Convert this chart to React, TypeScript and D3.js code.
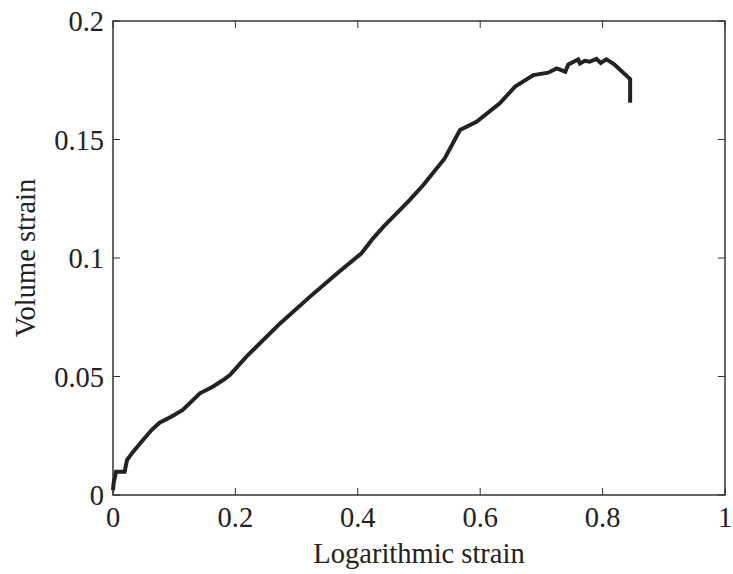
import React from "react";
import * as d3 from "d3";

const logStrain = [0, 0.001, 0.005, 0.019, 0.023, 0.033, 0.049, 0.063, 0.076, 0.095, 0.114, 0.142, 0.163, 0.18, 0.191, 0.218, 0.273, 0.322, 0.366, 0.406, 0.425, 0.442, 0.469, 0.485, 0.507, 0.542, 0.567, 0.594, 0.632, 0.657, 0.687, 0.711, 0.725, 0.739, 0.744, 0.76, 0.763, 0.771, 0.779, 0.79, 0.797, 0.806, 0.818, 0.845, 0.845];
const volStrain = [0.002, 0.005, 0.0098, 0.0098, 0.0148, 0.0183, 0.0232, 0.0274, 0.0305, 0.033, 0.0359, 0.0429, 0.0457, 0.0485, 0.0506, 0.0584, 0.0724, 0.0837, 0.0935, 0.102, 0.1083, 0.1132, 0.1203, 0.1245, 0.1308, 0.142, 0.154, 0.1575, 0.1653, 0.1723, 0.1772, 0.1782, 0.18, 0.1786, 0.1817, 0.1838, 0.1821, 0.1832, 0.1828, 0.184, 0.1823, 0.1838, 0.1819, 0.1755, 0.1655];
const xTicks = [0, 0.2, 0.4, 0.6, 0.8, 1];
const yTicks = [0, 0.05, 0.1, 0.15, 0.2];
const xTickLabels = ["0", "0.2", "0.4", "0.6", "0.8", "1"];
const yTickLabels = ["0", "0.05", "0.1", "0.15", "0.2"];

export default function App() {
  const W = 733, H = 574;
  const L = 113, R = 725, T = 21, B = 495;
  const x = d3.scaleLinear().domain([0, 1]).range([L, R]);
  const y = d3.scaleLinear().domain([0, 0.2]).range([B, T]);
  const pts = logStrain.map((v, i) => [v, volStrain[i]] as [number, number]);
  const line = d3.line<[number, number]>().x(d => x(d[0])).y(d => y(d[1]));
  const font = "'Liberation Serif', 'Times New Roman', serif";
  const fs = 28.5;
  const tl = 7;
  return (
    <svg width={W} height={H} style={{ position: "absolute", left: 0, top: 0, background: "#fff" }}>
      <rect x={0} y={0} width={W} height={H} fill="#fff" />
      <rect x={L} y={T} width={R - L} height={B - T} fill="none" stroke="#333" strokeWidth={1.5} />
      {xTicks.map((t, i) => (
        <g key={"x" + i}>
          <line x1={x(t)} x2={x(t)} y1={B} y2={B - tl} stroke="#333" strokeWidth={1} />
          <line x1={x(t)} x2={x(t)} y1={T} y2={T + tl} stroke="#333" strokeWidth={1} />
          <text x={x(t)} y={527} textAnchor="middle" fontFamily={font} fontSize={fs} fill="#222">{xTickLabels[i]}</text>
        </g>
      ))}
      {yTicks.map((t, i) => (
        <g key={"y" + i}>
          <line x1={L} x2={L + tl} y1={y(t)} y2={y(t)} stroke="#333" strokeWidth={1} />
          <line x1={R} x2={R - tl} y1={y(t)} y2={y(t)} stroke="#333" strokeWidth={1} />
          <text x={104} y={y(t) + 10} textAnchor="end" fontFamily={font} fontSize={fs} fill="#222">{yTickLabels[i]}</text>
        </g>
      ))}
      <path d={line(pts) || ""} fill="none" stroke="#222" strokeWidth={4} strokeLinejoin="miter" />
      <text x={(L + R) / 2} y={563} textAnchor="middle" fontFamily={font} fontSize={fs} fill="#222">Logarithmic strain</text>
      <text transform={`translate(35,${(T + B) / 2}) rotate(-90)`} textAnchor="middle" fontFamily={font} fontSize={fs} fill="#222">Volume strain</text>
    </svg>
  );
}
